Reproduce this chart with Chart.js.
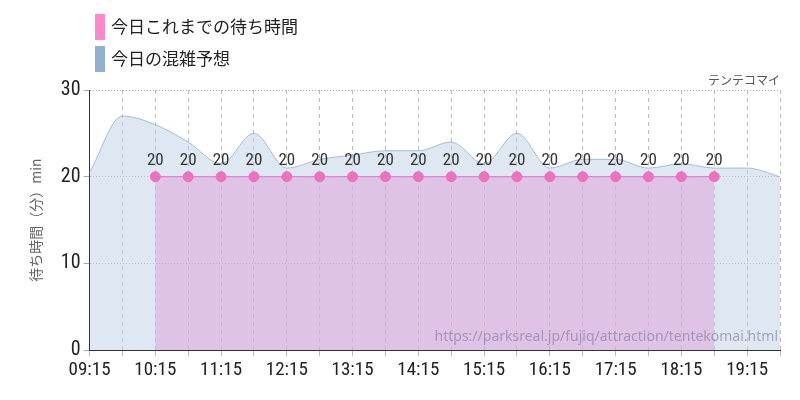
<!DOCTYPE html>
<html><head><meta charset="utf-8">
<script src="https://cdn.jsdelivr.net/npm/chart.js@4"></script>
<style>body{margin:0;background:#fff}#wrap{width:800px;height:400px}</style>
</head><body><div id="wrap"><canvas id="myChart"></canvas></div>
<script>
const times = ["09:15","09:45","10:15","10:45","11:15","11:45","12:15","12:45","13:15","13:45","14:15","14:45","15:15","15:45","16:15","16:45","17:15","17:45","18:15","18:45","19:15","19:45"];
const actualWait = [null,null,20,20,20,20,20,20,20,20,20,20,20,20,20,20,20,20,20,20,null,null];
const forecastWait = [20.5,27,26,24,21.5,25,21,22,22.5,23,23,24,21.5,25,21,22,22,21,21.5,21,21,20];
const yTicks = [0,10,20,30];
const legendItems = [['今日これまでの待ち時間', '#ff88cc'], ['今日の混雑予想', '#90b0d0']];

const extras = {
  id: 'extras',
  afterDatasetsDraw(chart) {
    const c = chart.ctx, meta = chart.getDatasetMeta(0);
    c.save();
    c.font = '17px "Roboto Condensed", "Liberation Sans Narrow", Roboto, sans-serif';
    c.fillStyle = '#333'; c.textAlign = 'center'; c.textBaseline = 'bottom';
    meta.data.forEach((p, i) => {
      if (actualWait[i] != null) c.fillText(actualWait[i], p.x, p.y - 7);
    });
    c.font = '12px "Noto Sans CJK JP", sans-serif';
    c.fillStyle = '#555'; c.textAlign = 'right'; c.textBaseline = 'bottom';
    c.fillText('テンテコマイ', 780, 86);
    c.font = '14px "Noto Sans", sans-serif';
    c.fillStyle = 'rgba(120,120,150,0.6)';
    c.fillText('https://parksreal.jp/fujiq/attraction/tentekomai.html', 778, 344);
    // legend
    c.font = '17px "Noto Sans CJK JP", sans-serif';
    c.textAlign = 'left'; c.textBaseline = 'middle';
    legendItems.forEach(([t, col], i) => {
      c.fillStyle = col;
      c.fillRect(95, 14 + i * 32, 10, 26);
      c.fillStyle = '#222';
      c.fillText(t, 111, 27 + i * 32);
    });
    c.restore();
  }
};

var ctx = document.getElementById('myChart').getContext('2d');
new Chart(ctx, {
  type: 'line',
  data: {
    labels: times,
    datasets: [{
      label: '今日これまでの待ち時間',
      data: actualWait,
      borderColor: '#e070c8',
      borderWidth: 1,
      backgroundColor: 'rgba(225,150,215,0.45)',
      pointBackgroundColor: '#ee70c0',
      pointBorderColor: '#ee70c0',
      pointRadius: 5,
      fill: 'origin',
      tension: 0,
      spanGaps: false
    }, {
      label: '今日の混雑予想',
      data: forecastWait,
      borderColor: 'rgba(150,175,200,0.8)',
      borderWidth: 1,
      backgroundColor: 'rgba(190,210,230,0.5)',
      pointRadius: 0,
      fill: 'origin',
      tension: 0.4,
      cubicInterpolationMode: 'monotone'
    }]
  },
  options: {
    responsive: true,
    maintainAspectRatio: false,
    animation: false,
    layout: { padding: { left: 23, right: 20, top: 90, bottom: 15 } },
    plugins: { legend: { display: false }, tooltip: { enabled: false } },
    scales: {
      x: {
        grid: { color: '#bbb', tickLength: 6 },
        border: { color: '#333', dash: [4, 4] },
        ticks: {
          autoSkip: false, maxRotation: 0, color: '#222',
          font: { size: 19, family: '"Roboto Condensed", "Liberation Sans Narrow", Roboto, sans-serif' },
          callback: (v, i) => i % 2 === 0 ? times[i] : ''
        }
      },
      y: {
        min: 0, max: 30,
        afterBuildTicks: (s) => { s.ticks = yTicks.map(v => ({ value: v })); },
        grid: { color: '#aaa', tickLength: 6 },
        border: { color: '#333', dash: [1, 2] },
        ticks: { color: '#222', font: { size: 20, family: '"Roboto Condensed", "Liberation Sans Narrow", Roboto, sans-serif' } },
        title: { display: true, text: '待ち時間（分）min', color: '#666', font: { size: 14, family: '"Noto Sans CJK JP", sans-serif' }, padding: { bottom: 14 } }
      }
    }
  },
  plugins: [extras]
});
</script>
</body></html>
